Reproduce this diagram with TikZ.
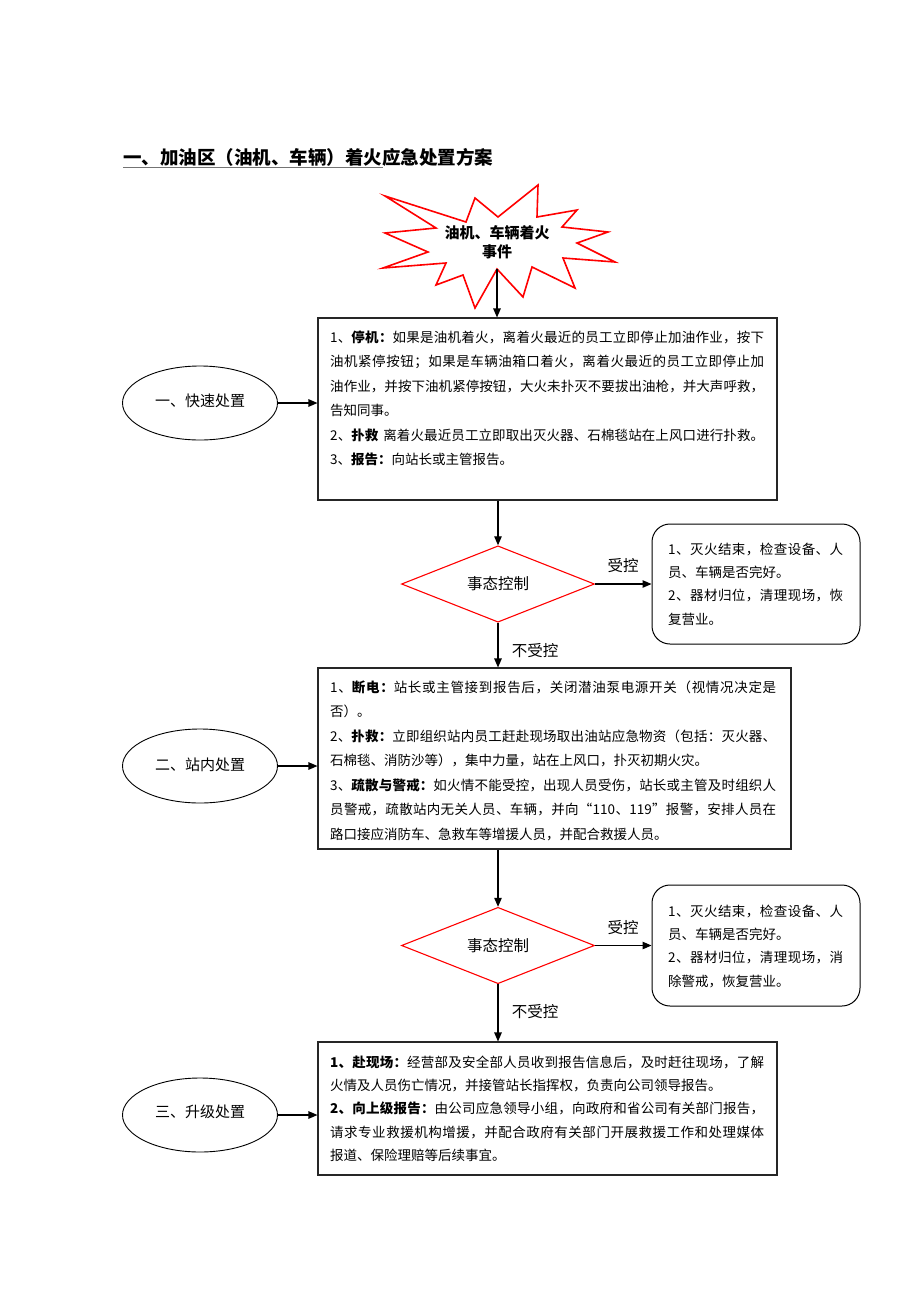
\documentclass[tikz,border=0pt]{standalone}
\usepackage{fontspec}
\setmainfont{Noto Sans CJK SC}
\usetikzlibrary{shapes.geometric,arrows.meta}
\makeatletter
\XeTeXinterchartokenstate=1
\count@="3000
\loop \XeTeXcharclass\count@=100 \advance\count@ 1 \ifnum\count@<"3040 \repeat
\count@="4E00
\loop \XeTeXcharclass\count@=100 \advance\count@ 1 \ifnum\count@<"A000 \repeat
\count@="FF00
\loop \XeTeXcharclass\count@=100 \advance\count@ 1 \ifnum\count@<"FFF0 \repeat
\XeTeXcharclass"201C=100
\XeTeXcharclass"201D=100
\makeatother
\XeTeXinterchartoks 100 100 = {\hskip 0pt plus 1pt\relax}
\XeTeXinterchartoks 0 100 = {\hskip 0pt plus 1pt\relax}
\XeTeXinterchartoks 100 0 = {\hskip 0pt plus 1pt\relax}
\newcommand\fl[2]{\hbox to #1{#2}}
\tikzset{
  box/.style={rectangle, draw=black!85, line width=1.1pt, inner sep=0pt},
  txt/.style={inner sep=0pt, anchor=north west},
  oval/.style={ellipse, draw=black, line width=0.9pt, minimum width=155pt, minimum height=74pt, inner sep=0pt, font=\fontsize{15}{18}\selectfont},
  dia/.style={diamond, draw=red, line width=1.1pt, minimum width=193pt, minimum height=72pt, inner sep=0pt, font=\fontsize{15.5}{18}\selectfont},
  rbox/.style={rectangle, draw=black, line width=1pt, rounded corners=18pt, inner sep=0pt},
  arr/.style={draw=black, line width=1.1pt, -{Triangle[length=9pt,width=7.5pt]}},
  lab/.style={inner sep=0pt, font=\fontsize{15.5}{18}\selectfont},
}
\begin{document}
\begin{tikzpicture}[x=1pt,y=-1pt]
\fill[white] (0,0) rectangle (920,1302);
\useasboundingbox (0,0) rectangle (920,1302);

% title
\node[anchor=base west, inner sep=0pt, font=\fontsize{18.5}{20}\selectfont\bfseries] (title) at (123,164) {一、加油区（油机、车辆）着火应急处置方案};
\draw[black!55, line width=1pt] ([yshift=-3pt]title.base west) -- ++(260,0);

% star
\draw[red, line width=1.6pt, line join=miter] (385,196) -- (466,222) -- (475,198) -- (498,217) -- (538,185) -- (537,217) -- (577,210) -- (562,227) -- (608,232) -- (577,243) -- (615,262) -- (563,258) -- (575,288) -- (532,267) -- (523,297) -- (497,269) -- (475,308) -- (463,275) -- (436,285) -- (446,263) -- (383,268) -- (428,252) -- (385,233) -- (436,228) -- cycle;
\coordinate (starbot) at (497,269);
\node[inner sep=0pt, align=center, font=\fontsize{15}{19}\selectfont\bfseries] (st) at (497,242) {油机、车辆着火\\事件};

% main boxes
\node[box, minimum width=459pt, minimum height=182pt] (b1) at (547.5,409) {};
\node[box, minimum width=473pt, minimum height=181pt] (b2) at (554.5,758.5) {};
\node[box, minimum width=459pt, minimum height=133pt] (b3) at (547.5,1108.5) {};

\node[txt, font=\fontsize{13.5}{24.5}\selectfont] (t1) at (330,325) {\begin{tabular}{@{}l@{}}
\fl{434pt}{1、\textbf{停机：}如果是油机着火，离着火最近的员工立即停止加油作业，按下}\\
\fl{434pt}{油机紧停按钮；如果是车辆油箱口着火，离着火最近的员工立即停止加}\\
\fl{434pt}{油作业，并按下油机紧停按钮，大火未扑灭不要拔出油枪，并大声呼救，}\\
告知同事。\\
\fl{434pt}{2、\textbf{扑救}\hspace{5pt}离着火最近员工立即取出灭火器、石棉毯站在上风口进行扑救。}\\
3、\textbf{报告：}向站长或主管报告。
\end{tabular}};

\node[txt, font=\fontsize{13.5}{24.5}\selectfont] (t2) at (330,675) {\begin{tabular}{@{}l@{}}
\fl{446pt}{1、\textbf{断电：}站长或主管接到报告后，关闭潜油泵电源开关（视情况决定是}\\
否）。\\
\fl{446pt}{2、\textbf{扑救：}立即组织站内员工赶赴现场取出油站应急物资（包括：灭火器、}\\
石棉毯、消防沙等），集中力量，站在上风口，扑灭初期火灾。\\
\fl{446pt}{3、\textbf{疏散与警戒：}如火情不能受控，出现人员受伤，站长或主管及时组织人}\\
\fl{446pt}{员警戒，疏散站内无关人员、车辆，并向“110、119”报警，安排人员在}\\
路口接应消防车、急救车等增援人员，并配合救援人员。
\end{tabular}};

\node[txt, font=\fontsize{13.5}{23.3}\selectfont] (t3) at (330,1050.7) {\begin{tabular}{@{}l@{}}
\fl{434pt}{\textbf{1、赴现场：}经营部及安全部人员收到报告信息后，及时赶往现场，了解}\\
火情及人员伤亡情况，并接管站长指挥权，负责向公司领导报告。\\
\fl{434pt}{\textbf{2、向上级报告：}由公司应急领导小组，向政府和省公司有关部门报告，}\\
\fl{434pt}{请求专业救援机构增援，并配合政府有关部门开展救援工作和处理媒体}\\
报道、保险理赔等后续事宜。
\end{tabular}};

% ellipses
\node[oval] (e1) at (200,403) {\raisebox{6pt}{一、快速处置}};
\node[oval] (e2) at (200,766) {\raisebox{3pt}{二、站内处置}};
\node[oval] (e3) at (200,1115) {\raisebox{7pt}{三、升级处置}};

% diamonds
\node[dia] (d1) at (498,584) {事态控制};
\node[dia] (d2) at (498,945.5) {事态控制};

% rounded boxes
\node[rbox, minimum width=208pt, minimum height=120pt] (r1) at (756,584) {};
\node[rbox, minimum width=208pt, minimum height=121pt] (r2) at (756,945.5) {};
\node[txt, font=\fontsize{13.5}{23.3}\selectfont] (rt1) at (668,537.7) {\begin{tabular}{@{}l@{}}
\fl{175pt}{1、灭火结束，检查设备、人}\\
员、车辆是否完好。\\
\fl{175pt}{2、器材归位，清理现场，恢}\\
复营业。
\end{tabular}};
\node[txt, font=\fontsize{13.5}{23.3}\selectfont] (rt2) at (668,899.7) {\begin{tabular}{@{}l@{}}
\fl{175pt}{1、灭火结束，检查设备、人}\\
员、车辆是否完好。\\
\fl{175pt}{2、器材归位，清理现场，消}\\
除警戒，恢复营业。
\end{tabular}};

% labels
\node[lab] (k1) at (623,566) {受控};
\node[lab] (k2) at (623,928) {受控};
\node[lab] (n1) at (535,651) {不受控};
\node[lab] (n2) at (535,1012) {不受控};

% connectors
\draw[arr] (starbot) -- (starbot |- b1.north);
\draw[arr] (d1.north |- b1.south) -- (d1.north);
\draw[arr] (d1.south) -- (d1.south |- b2.north);
\draw[arr] (d2.north |- b2.south) -- (d2.north);
\draw[arr] (d2.south) -- (d2.south |- b3.north);
\draw[arr] (d1.east) -- (r1.west);
\draw[arr] (d2.east) -- (r2.west);
\draw[arr] (e1.east) -- (e1.east -| b1.west);
\draw[arr] (e2.east) -- (e2.east -| b2.west);
\draw[arr] (e3.east) -- (e3.east -| b3.west);
\end{tikzpicture}
\end{document}
